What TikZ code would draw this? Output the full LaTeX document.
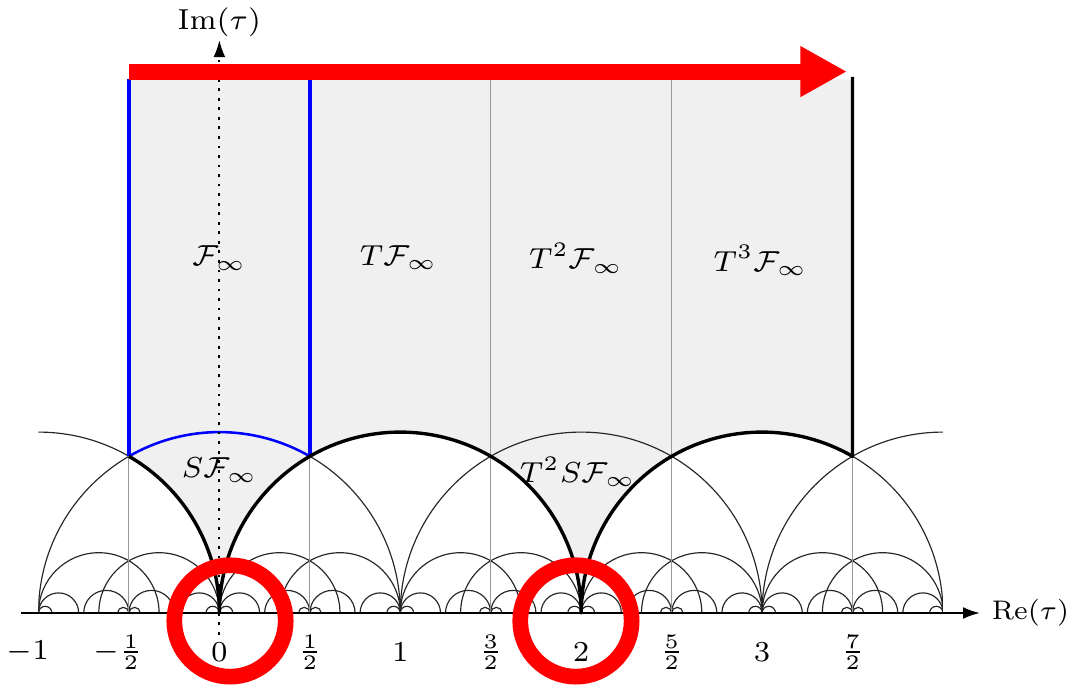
\documentclass[tikz,border=0pt]{standalone}
\usetikzlibrary{arrows.meta}
\definecolor{regiongrey}{RGB}{240,240,240}
\newcommand\geo[2]{\draw[thinarc] ({#1+#2},0) arc[start angle=0,end angle=180,radius=#2];}
\begin{document}
\begin{tikzpicture}[x=3cm,y=3cm,
  thinarc/.style={line width=0.55pt, black!85},
  halfline/.style={line width=0.5pt, black!40},
  boldarc/.style={line width=1.6pt, black, line join=round},
  bluebd/.style={line width=1.6pt, blue},
  lbl/.style={font=\scriptsize, scale=1.95, inner sep=0pt},
  axisline/.style={line width=0.95pt, -{Latex[length=8pt,width=5.6pt]}},
  redmark/.style={red, line width=7.4pt}]
\useasboundingbox (-1.2128,-0.398) rectangle (4.7131,3.3886);

% grey regions
\fill[regiongrey] (-0.5,2.95) -- (-0.5,{sqrt(3)/2})
  arc[start angle=60,end angle=0,radius=1]
  arc[start angle=180,end angle=0,radius=1]
  arc[start angle=180,end angle=60,radius=1]
  -- (3.5,2.95) -- cycle;

% tessellation arcs
\begin{scope}
\clip (-1,-0.01) rectangle (4,1.05);
\foreach \n in {-1,...,4}{
  \geo{\n}{1}
  \geo{\n+1/9}{1/9}
  \geo{\n-1/9}{1/9}
  \geo{\n+1/27}{1/27}
  \geo{\n-1/27}{1/27}
}
\foreach \n in {-1,...,3}{
  \geo{\n+1/3}{1/3}
  \geo{\n+2/3}{1/3}
  \geo{\n+1/2+1/8}{1/8}
  \geo{\n+1/2-1/8}{1/8}
  \geo{\n+1/2+1/32}{1/32}
  \geo{\n+1/2-1/32}{1/32}
}
\end{scope}

% vertical half-integer lines
\foreach \x in {-0.5,0.5,1.5,2.5,3.5}
  \draw[halfline] (\x,0) -- (\x,2.95);

% blue boundary of F
\draw[bluebd] (-0.5,2.95) -- (-0.5,{sqrt(3)/2});
\draw[bluebd] (0.5,2.95) -- (0.5,{sqrt(3)/2});
\draw[blue, line width=1.2pt] (-0.5,{sqrt(3)/2}) arc[start angle=120,end angle=60,radius=1];

% bold boundary
\draw[boldarc] (-0.5,{sqrt(3)/2})
  arc[start angle=60,end angle=0,radius=1]
  arc[start angle=180,end angle=0,radius=1]
  arc[start angle=180,end angle=60,radius=1]
  -- (3.5,2.963);

% axes
\coordinate (xs) at (-1.097,0);
\coordinate (xe) at (4.2045,0);
\coordinate (ys) at (0,-0.12);
\coordinate (ye) at (0,3.167);
\draw[axisline] (xs) -- (xe);
\draw[axisline, line width=1pt, dash pattern=on 1.3pt off 3.2pt] (ys) -- (ye);
\node[lbl, scale=0.93, anchor=west] (relab) at (4.266,0) {$\mathrm{Re}(\tau)$};
\node[lbl] (imlab) at (0,3.267) {$\mathrm{Im}(\tau)$};

% tick labels
\node[lbl] (tm1) at (-1.06,-0.2156) {$-1$};
\node[lbl] (tmh) at (-0.56,-0.2156) {$-\frac{1}{2}$};
\node[lbl] (t0) at (0,-0.2156) {$0$};
\node[lbl] (th) at (0.5,-0.2156) {$\frac{1}{2}$};
\node[lbl] (t1) at (1,-0.2156) {$1$};
\node[lbl] (t3h) at (1.5,-0.2156) {$\frac{3}{2}$};
\node[lbl] (t2) at (2,-0.2156) {$2$};
\node[lbl] (t5h) at (2.5,-0.2156) {$\frac{5}{2}$};
\node[lbl] (t3) at (3,-0.2156) {$3$};
\node[lbl] (t7h) at (3.5,-0.2156) {$\frac{7}{2}$};

% region labels
\node[lbl] (F) at (0,1.962) {$\mathcal{F}_\infty$};
\node[lbl] (TF) at (0.99,1.965) {$T\mathcal{F}_\infty$};
\node[lbl] (T2F) at (1.97,1.962) {$T^2\mathcal{F}_\infty$};
\node[lbl] (T3F) at (2.99,1.948) {$T^3\mathcal{F}_\infty$};
\node[lbl] (SF) at (0,0.79) {$S\mathcal{F}_\infty$};
\node[lbl] (T2SF) at (1.98,0.78) {$T^2S\mathcal{F}_\infty$};

% red highlights
\coordinate (as) at (-0.5,2.993);
\coordinate (ae) at (3.469,2.993);
\draw[redmark, line width=7.6pt, -{Triangle[length=22pt,width=22.5pt]}] (as) -- (ae);
\coordinate (r1) at (0.0586,-0.044);
\coordinate (r2) at (1.971,-0.044);
\draw[redmark] (r1) circle[radius=0.308];
\draw[redmark] (r2) circle[radius=0.308];
\end{tikzpicture}
\end{document}
